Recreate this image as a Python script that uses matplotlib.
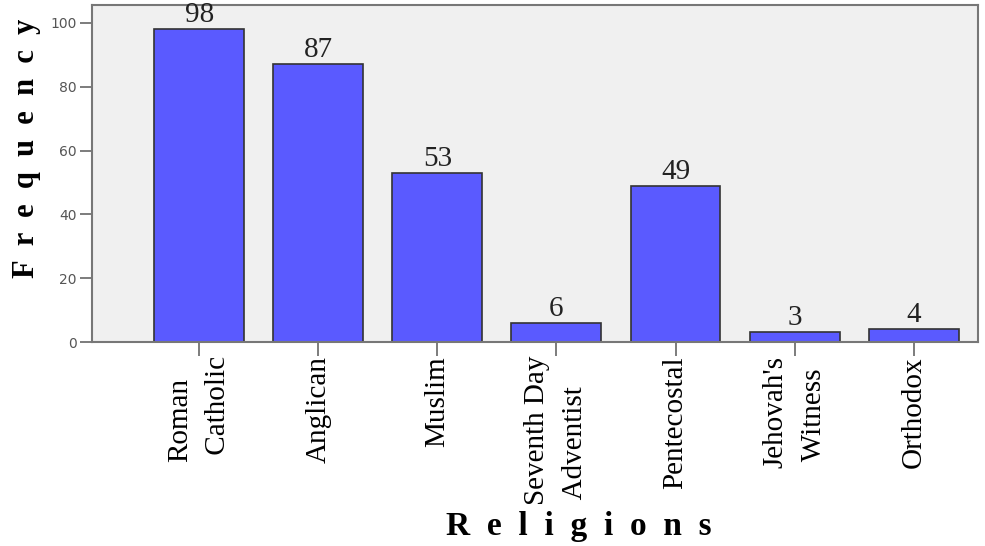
import matplotlib.pyplot as plt
import numpy as np

religions = ["Roman\n Catholic", "Anglican", "Muslim", "Seventh Day\n Adventist",
             "Pentecostal", "Jehovah's\n Witness", "Orthodox"]
frequency = [98, 87, 53, 6, 49, 3, 4]
y_ticks = [0, 20, 40, 60, 80, 100]

fig = plt.figure(figsize=(9.85, 5.46), dpi=100)
ax = fig.add_axes([0.0934, 0.3736, 0.8995, 0.6172])
ax.set_facecolor('#f0f0f0')

x = np.arange(len(religions))
bars = ax.bar(x, frequency, width=0.755, color='#5a5aff', edgecolor='#333333', linewidth=1.2, zorder=2)

for xi, v in zip(x, frequency):
    ax.text(xi, v + 0.3, str(v), ha='center', va='bottom', fontsize=21,
            family='Liberation Serif', color='#222222')

ax.set_xlim(-0.9, 6.54)
ax.set_ylim(0, 105.6)
ax.set_yticks(y_ticks)
ax.set_yticklabels([str(t) for t in y_ticks], fontsize=10, color='#555555')
ax.set_xticks(x)
ax.set_xticklabels(religions, rotation=90, fontsize=21, family='Liberation Serif',
                   ha='center', va='top', multialignment='left', linespacing=1.6)
ax.tick_params(axis='y', length=9, width=1.2, color='#666666', pad=2)
ax.tick_params(axis='x', length=10, width=1.2, color='#666666', pad=0)

for s in ax.spines.values():
    s.set_color('#777777')
    s.set_linewidth(1.5)

ax.set_ylabel("F  r  e  q  u  e  n  c  y", fontsize=22, family='Liberation Serif',
              fontweight='bold')
ax.yaxis.set_label_coords(-0.058, 0.575)
fig.text(0.588, 0.008, "R  e  l  i  g  i  o  n  s", ha='center', va='bottom', fontsize=24,
         family='Liberation Serif', fontweight='bold')

plt.savefig('out.png', dpi=100)
